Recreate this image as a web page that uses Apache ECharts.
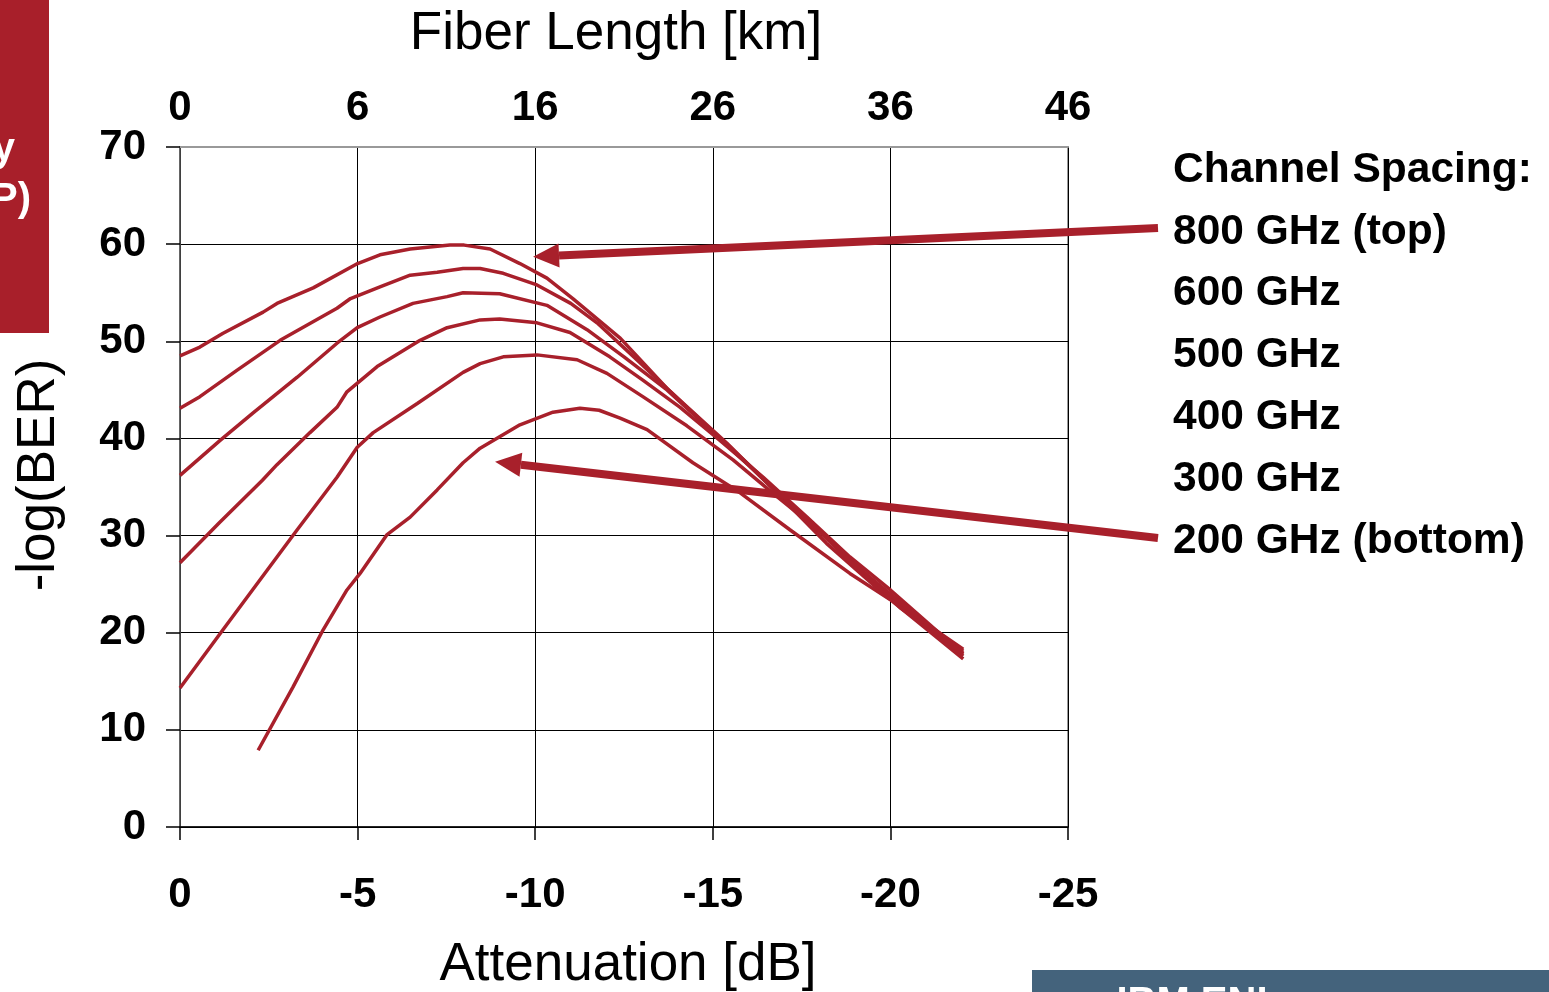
<!DOCTYPE html>
<html>
<head>
<meta charset="utf-8">
<script src="https://cdn.jsdelivr.net/npm/echarts@6/dist/echarts.min.js"></script>
<style>
  html, body { margin: 0; padding: 0; background: #fff; }
  #chart { width: 1549px; height: 992px; }
</style>
</head>
<body>
<div id="chart"></div>
<script>
// attenuation [dB] (negative, as on the axis) vs -log(BER)
const curve800 = [[0,48.5],[-0.56,49.4],[-1.2,50.8],[-2.34,53.0],[-2.73,53.9],[-3.75,55.5],[-5.0,58.0],[-5.63,58.9],[-6.48,59.5],[-7.04,59.7],[-7.6,59.9],[-8.0,59.9],[-8.73,59.5],[-9.57,58.0],[-10.33,56.5],[-11.06,54.4],[-12.4,50.3],[-13.75,45.0],[-15.4,39.5],[-16.8,34.4],[-18.2,29.2],[-19.9,23.7],[-22.05,18.3]];
const curve600 = [[0,43.1],[-0.56,44.3],[-1.6,47.0],[-2.82,50.1],[-4.42,53.4],[-4.8,54.4],[-5.63,55.6],[-6.48,56.8],[-7.24,57.1],[-7.97,57.5],[-8.45,57.5],[-9.1,57.0],[-10.05,55.8],[-11.0,53.9],[-11.74,51.9],[-12.95,47.8],[-14.16,43.6],[-15.57,38.8],[-16.98,34.0],[-18.38,29.2],[-20.0,23.7],[-22.05,18.1]];
const curve500 = [[0,36.2],[-1.13,39.8],[-2.05,42.6],[-3.3,46.3],[-4.42,49.8],[-4.99,51.4],[-5.63,52.5],[-6.56,53.9],[-7.52,54.6],[-7.97,55.0],[-9.0,54.9],[-10.33,53.7],[-11.46,51.2],[-12.5,48.4],[-13.71,45.0],[-14.84,41.2],[-16.05,37.1],[-17.45,32.3],[-18.86,27.5],[-20.27,22.6],[-22.05,17.9]];
const curve400 = [[0,27.2],[-1.1,31.3],[-2.32,35.7],[-2.73,37.3],[-3.66,40.6],[-4.42,43.2],[-4.7,44.8],[-5.55,47.4],[-6.76,50.1],[-7.52,51.4],[-8.45,52.2],[-9.0,52.3],[-10.05,51.9],[-10.98,50.9],[-12.1,48.4],[-13.03,46.0],[-14.08,43.2],[-15.2,39.8],[-16.42,36.0],[-17.65,31.9],[-18.86,27.8],[-20.0,24.4],[-22.05,17.8]];
const curve300 = [[0,14.3],[-1.21,20.3],[-2.73,27.8],[-3.3,30.6],[-4.42,36.0],[-4.99,39.1],[-5.44,40.6],[-6.68,43.6],[-7.97,46.8],[-8.45,47.7],[-9.1,48.4],[-10.05,48.6],[-11.18,48.1],[-12.02,46.7],[-13.03,44.3],[-14.27,41.3],[-15.57,37.8],[-16.81,34.0],[-18.02,30.4],[-18.78,27.6],[-20.0,24.0],[-22.05,17.6]];
const curve200 = [[-2.2,7.9],[-3.18,14.4],[-4.03,20.3],[-4.7,24.4],[-5.07,26.1],[-5.83,30.1],[-6.48,31.9],[-7.24,34.7],[-7.97,37.5],[-8.45,39.0],[-9.57,41.4],[-10.5,42.7],[-11.26,43.1],[-11.8,42.9],[-12.39,42.1],[-13.15,40.9],[-14.44,37.5],[-15.77,34.4],[-17.17,30.6],[-18.86,26.1],[-20.0,23.4],[-22.05,17.3]];

const fiberLabels  = ['0', '6', '16', '26', '36', '46'];
const legendLines  = ['Channel Spacing:', '800 GHz (top)', '600 GHz', '500 GHz', '400 GHz', '300 GHz', '200 GHz (bottom)'];
// arrow tips in data units: top curve, bottom curve
const arrowTips    = [[-9.94, 58.7], [-8.87, 37.6]];

const RED  = '#A8202B';
const FONT = '"Liberation Sans", Arial, sans-serif';

const chart = echarts.init(document.getElementById('chart'), null, { renderer: 'canvas' });

const tickLabel = { color: '#000', fontFamily: FONT, fontWeight: 'bold', fontSize: 42 };
const nameStyle = { color: '#000', fontFamily: FONT, fontSize: 53 };

chart.setOption({
  backgroundColor: '#fff',
  animation: false,
  grid: {
    left: 180, right: 481, top: 147, bottom: 165,
    containLabel: false, outerBoundsMode: 'none',
    show: true, borderColor: '#999', borderWidth: 2,
  },
  xAxis: [{
    type: 'value', min: -25, max: 0, interval: 5, inverse: true, position: 'bottom',
    name: 'Attenuation [dB]', nameLocation: 'middle', nameGap: 112,
    nameTextStyle: Object.assign({ padding: [0, 0, 0, 8] }, nameStyle),
    axisLine: { onZero: false, lineStyle: { color: '#000', width: 1.5 } },
    axisTick: { show: true, inside: false, length: 13, lineStyle: { color: '#000', width: 1.5 } },
    axisLabel: Object.assign({ margin: 47 }, tickLabel),
    splitLine: { show: true, lineStyle: { color: '#000', width: 1 } },
  }, {
    type: 'value', min: -25, max: 0, interval: 5, inverse: true, position: 'top',
    name: 'Fiber Length [km]', nameLocation: 'middle', nameGap: 86,
    nameTextStyle: Object.assign({ padding: [0, 16, 0, 0] }, nameStyle),
    axisLine: { onZero: false, lineStyle: { color: '#999', width: 2 } },
    axisTick: { show: false },
    axisLabel: Object.assign({ margin: 18, formatter: (v) => fiberLabels[Math.round(-v / 5)] }, tickLabel),
    splitLine: { show: false },
  }],
  yAxis: {
    type: 'value', min: 0, max: 70, interval: 10,
    name: '-log(BER)', nameLocation: 'middle', nameGap: 114,
    nameTextStyle: Object.assign({ padding: [0, 0, 0, 24] }, nameStyle),
    axisLine: { show: true, onZero: false, lineStyle: { color: '#555', width: 1.5 } },
    axisTick: { show: true, inside: false, length: 14, lineStyle: { color: '#000', width: 1.5 } },
    axisLabel: Object.assign({ margin: 34, padding: [6, 0, 0, 0] }, tickLabel),
    splitLine: { show: true, lineStyle: { color: '#000', width: 1 } },
  },
  series: [curve800, curve600, curve500, curve400, curve300, curve200].map((d) => ({
    type: 'line', data: d, symbol: 'none', smooth: false, clip: false,
    lineStyle: { color: RED, width: 3.5 },
  })),
});

function arrow(tail, tip) {
  const dx = tip[0] - tail[0], dy = tip[1] - tail[1];
  const len = Math.sqrt(dx * dx + dy * dy);
  const ux = dx / len, uy = dy / len;
  const headLen = 26, headHalf = 12;
  const bx = tip[0] - ux * headLen, by = tip[1] - uy * headLen;
  return [
    { type: 'line', shape: { x1: tail[0], y1: tail[1], x2: bx, y2: by }, style: { stroke: RED, lineWidth: 8 }, z: 100 },
    { type: 'polygon', shape: { points: [tip, [bx - uy * headHalf, by + ux * headHalf], [bx + uy * headHalf, by - ux * headHalf]] }, style: { fill: RED }, z: 100 },
  ];
}

const tails = [[1158, 228], [1158, 538]];
const graphics = [
  { type: 'rect', shape: { x: 0, y: 0, width: 49, height: 333 }, style: { fill: '#A81F2A' } },
  { type: 'text', x: 15, y: 130, style: { text: 'y', fill: '#fff', font: 'bold 40px ' + FONT, textAlign: 'right' } },
  { type: 'text', x: 31, y: 180, style: { text: 'P)', fill: '#fff', font: 'bold 40px ' + FONT, textAlign: 'right' } },
  { type: 'rect', shape: { x: 1032, y: 970, width: 517, height: 22 }, style: { fill: '#44637C' } },
  { type: 'text', x: 1092, y: 984, style: { text: '- IBM ENI', fill: '#fff', font: 'bold 40px ' + FONT } },
];
legendLines.forEach((t, i) => {
  graphics.push({ type: 'text', x: 1173, y: 170 + i * 61.8,
    style: { text: t, fill: '#000', font: 'bold 42.5px ' + FONT, textVerticalAlign: 'middle' } });
});
arrowTips.forEach((p, i) => {
  const tip = chart.convertToPixel({ gridIndex: 0 }, p);
  arrow(tails[i], tip).forEach((g) => graphics.push(g));
});
chart.setOption({ graphic: graphics });
</script>
</body>
</html>
